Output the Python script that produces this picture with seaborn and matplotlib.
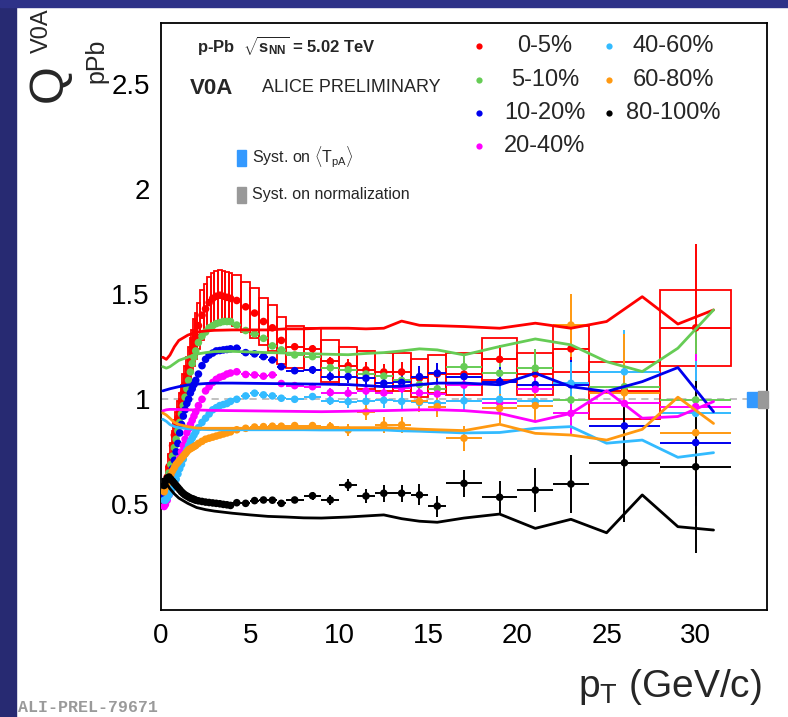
import numpy as np
import pandas as pd
import matplotlib
matplotlib.use("Agg")
import matplotlib.pyplot as plt
from matplotlib.patches import Rectangle
from matplotlib.ticker import MultipleLocator, FixedLocator
import seaborn as sns

# ---------------- data ----------------
classes = ["0-5%", "5-10%", "10-20%", "20-40%", "40-60%", "60-80%", "80-100%"]
colors = ["#ff0000", "#66cc55", "#0000ee", "#ff00ff", "#33bbff", "#ff9911", "#000000"]

pt = [0.175, 0.25, 0.35, 0.45, 0.55, 0.65, 0.75, 0.85, 0.95,
      1.05, 1.15, 1.25, 1.35, 1.45, 1.55, 1.65, 1.75, 1.85, 1.95,
      2.1, 2.3, 2.5, 2.7, 2.9, 3.1, 3.3, 3.5, 3.7, 3.9,
      4.25, 4.75, 5.25, 5.75, 6.25, 6.75,
      7.5, 8.5, 9.5,
      10.5, 11.5, 12.5, 13.5, 14.5, 15.5,
      17, 19, 21, 23, 26, 30]
pt_halfwidth = [0.025, 0.05, 0.05, 0.05, 0.05, 0.05, 0.05, 0.05, 0.05,
                0.05, 0.05, 0.05, 0.05, 0.05, 0.05, 0.05, 0.05, 0.05, 0.05,
                0.1, 0.1, 0.1, 0.1, 0.1, 0.1, 0.1, 0.1, 0.1, 0.1,
                0.25, 0.25, 0.25, 0.25, 0.25, 0.25,
                0.5, 0.5, 0.5,
                0.5, 0.5, 0.5, 0.5, 0.5, 0.5,
                1, 1, 1, 1, 2, 2]

q_0_5 = [0.55, 0.58, 0.63, 0.68, 0.73, 0.78, 0.83, 0.87, 0.91,
         0.95, 0.99, 1.03, 1.07, 1.11, 1.15, 1.19, 1.23, 1.27, 1.30,
         1.35, 1.40, 1.43, 1.46, 1.48, 1.49, 1.495, 1.49, 1.485, 1.48,
         1.47, 1.44, 1.41, 1.37, 1.34, 1.28,
         1.25, 1.24, 1.18,
         1.16, 1.14, 1.13, 1.13, 1.10, 1.12,
         1.12, 1.19, 1.12, 1.24, 1.04, 1.34]
q_5_10 = [0.55, 0.57, 0.61, 0.65, 0.69, 0.73, 0.77, 0.81, 0.85,
          0.89, 0.93, 0.97, 1.01, 1.05, 1.09, 1.13, 1.17, 1.20, 1.23,
          1.27, 1.30, 1.32, 1.34, 1.35, 1.36, 1.365, 1.37, 1.37, 1.37,
          1.353, 1.327, 1.311, 1.29, 1.254, 1.235,
          1.211, 1.203, 1.15,
          1.14, 1.12, 1.11, 1.09, 1.07, 1.05,
          1.155, 1.124, 1.148, 0.997, 1.06, 0.997]
q_10_20 = [0.54, 0.555, 0.58, 0.61, 0.64, 0.67, 0.71, 0.75, 0.79,
           0.84, 0.88, 0.92, 0.95, 0.98, 1.0, 1.03, 1.05, 1.07, 1.09,
           1.12, 1.16, 1.19, 1.21, 1.22, 1.23, 1.232, 1.235, 1.237, 1.24,
           1.243, 1.222, 1.216, 1.203, 1.187, 1.155,
           1.136, 1.14, 1.108,
           1.108, 1.10, 1.076, 1.08, 1.108, 1.124,
           1.108, 1.084, 1.07, 1.069, 0.873, 0.794]
q_20_40 = [0.49, 0.50, 0.52, 0.545, 0.57, 0.60, 0.63, 0.66, 0.69,
           0.72, 0.75, 0.78, 0.81, 0.84, 0.86, 0.88, 0.90, 0.92, 0.94,
           0.97, 1.0, 1.04, 1.06, 1.08, 1.095, 1.105, 1.11, 1.12, 1.125,
           1.131, 1.118, 1.116, 1.11, 1.116, 1.075,
           1.065, 1.06, 1.032,
           1.029, 1.04, 1.03, 1.052, 1.03, 1.025,
           1.068, 0.983, 1.047, 0.933, 0.98, 0.965]
q_40_60 = [0.52, 0.52, 0.53, 0.545, 0.56, 0.58, 0.60, 0.62, 0.645,
           0.67, 0.69, 0.715, 0.74, 0.76, 0.78, 0.80, 0.815, 0.83, 0.845,
           0.865, 0.89, 0.91, 0.93, 0.95, 0.96, 0.97, 0.975, 0.98, 0.99,
           1.0, 1.016, 1.029, 1.021, 1.016, 1.005,
           1.0, 1.013, 0.993,
           0.989, 0.99, 0.995, 0.99, 0.985, 0.98,
           0.993, 1.0, 0.99, 1.076, 1.131, 0.933]
q_60_80 = [0.56, 0.58, 0.60, 0.62, 0.64, 0.66, 0.675, 0.69, 0.70,
           0.71, 0.72, 0.73, 0.74, 0.75, 0.76, 0.765, 0.77, 0.775, 0.78,
           0.79, 0.80, 0.81, 0.815, 0.82, 0.825, 0.83, 0.835, 0.84, 0.845,
           0.855, 0.862, 0.868, 0.87, 0.872, 0.872,
           0.875, 0.875, 0.87,
           0.854, 0.94, 0.878, 0.878, 0.99, 0.965,
           0.815, 0.957, 0.97, 1.353, 1.031, 0.841]
q_80_100 = [0.59, 0.61, 0.625, 0.63, 0.62, 0.61, 0.60, 0.59, 0.58,
            0.57, 0.56, 0.552, 0.545, 0.54, 0.535, 0.53, 0.527, 0.524, 0.52,
            0.517, 0.514, 0.511, 0.509, 0.507, 0.505, 0.503, 0.50, 0.498, 0.495,
            0.508, 0.505, 0.518, 0.521, 0.52, 0.505,
            0.521, 0.541, 0.521,
            0.592, 0.54, 0.553, 0.553, 0.545, 0.492,
            0.60, 0.534, 0.568, 0.597, 0.698, 0.679]

# statistical errors: common low-pT part, per-class high-pT part (pT > 10)
err_low = [0.004, 0.004, 0.004, 0.004, 0.004, 0.004, 0.004, 0.004, 0.004,
           0.004, 0.004, 0.004, 0.004, 0.004, 0.004, 0.004, 0.004, 0.004, 0.004,
           0.005, 0.005, 0.005, 0.005, 0.005, 0.006, 0.006, 0.006, 0.007, 0.007,
           0.008, 0.009, 0.01, 0.011, 0.012, 0.013,
           0.015, 0.018, 0.022]
err_hi_0_5 = [0.03, 0.035, 0.04, 0.045, 0.05, 0.05, 0.06, 0.07, 0.09, 0.12, 0.2, 0.4]
err_hi_5_10 = [0.03, 0.035, 0.04, 0.045, 0.05, 0.05, 0.06, 0.07, 0.09, 0.12, 0.2, 0.35]
err_hi_10_20 = [0.03, 0.035, 0.04, 0.04, 0.05, 0.05, 0.06, 0.07, 0.09, 0.12, 0.18, 0.3]
err_hi_20_40 = [0.03, 0.03, 0.035, 0.04, 0.045, 0.05, 0.055, 0.065, 0.09, 0.1, 0.18, 0.25]
err_hi_40_60 = [0.03, 0.03, 0.035, 0.04, 0.045, 0.05, 0.055, 0.065, 0.08, 0.1, 0.2, 0.25]
err_hi_60_80 = [0.03, 0.04, 0.04, 0.04, 0.05, 0.05, 0.06, 0.07, 0.08, 0.15, 0.28, 0.2]
err_hi_80_100 = [0.03, 0.035, 0.04, 0.04, 0.05, 0.05, 0.065, 0.075, 0.105, 0.14, 0.28, 0.41]

# systematic uncertainty of 0-5% (boxes)
sys_0_5 = [0.05, 0.05, 0.05, 0.06, 0.06, 0.07, 0.07, 0.07, 0.08,
           0.08, 0.08, 0.09, 0.09, 0.09, 0.1, 0.1, 0.1, 0.11, 0.11,
           0.11, 0.12, 0.12, 0.12, 0.12, 0.12, 0.12, 0.12, 0.12, 0.12,
           0.12, 0.12, 0.12, 0.11, 0.11, 0.11,
           0.1, 0.1, 0.1,
           0.09, 0.09, 0.09, 0.09, 0.09, 0.09,
           0.1, 0.1, 0.1, 0.11, 0.135, 0.18]

# curves
line_pt = [0.1, 0.3, 0.5, 0.75, 1.0, 1.5, 2.0, 2.5, 3.0, 4.0, 5.0, 6.0, 7.0, 8.0, 9.0,
           10.5, 11.5, 12.5, 13.5, 14.5, 15.5, 17, 19, 21, 23, 25, 27, 29, 31]
line_0_5 = [1.20, 1.19, 1.21, 1.25, 1.28, 1.305, 1.32, 1.325, 1.328, 1.33, 1.33, 1.33, 1.335, 1.335, 1.338,
            1.338, 1.335, 1.338, 1.372, 1.352, 1.35, 1.346, 1.338, 1.362, 1.338, 1.37, 1.488, 1.358, 1.425]
line_5_10 = [1.155, 1.148, 1.155, 1.17, 1.185, 1.20, 1.215, 1.222, 1.227, 1.228, 1.225, 1.222, 1.22, 1.218, 1.215,
             1.212, 1.218, 1.222, 1.23, 1.24, 1.235, 1.211, 1.251, 1.287, 1.259, 1.179, 1.132, 1.243, 1.425]
line_10_20 = [1.04, 1.045, 1.05, 1.055, 1.06, 1.068, 1.072, 1.075, 1.077, 1.077, 1.076, 1.075, 1.074, 1.073, 1.072,
              1.07, 1.065, 1.06, 1.062, 1.07, 1.077, 1.077, 1.069, 1.124, 1.06, 1.037, 1.084, 1.151, 0.941]
line_20_40 = [0.945, 0.95, 0.952, 0.952, 0.951, 0.95, 0.949, 0.948, 0.947, 0.946, 0.945, 0.944, 0.943, 0.942, 0.941,
              0.943, 0.945, 0.946, 0.948, 0.95, 0.95, 0.946, 0.933, 0.894, 0.933, 1.041, 0.91, 0.918, 0.989]
line_40_60 = [0.905, 0.895, 0.88, 0.87, 0.865, 0.86, 0.857, 0.856, 0.855, 0.855, 0.855, 0.855, 0.855, 0.855, 0.854,
              0.854, 0.854, 0.854, 0.85, 0.848, 0.845, 0.84, 0.842, 0.862, 0.87, 0.791, 0.806, 0.724, 0.746]
line_60_80 = [0.935, 0.925, 0.91, 0.89, 0.88, 0.87, 0.863, 0.862, 0.862, 0.862, 0.862, 0.862, 0.862, 0.863, 0.864,
              0.865, 0.865, 0.865, 0.862, 0.858, 0.855, 0.851, 0.881, 0.838, 0.83, 0.806, 0.857, 1.01, 0.885]
line_80_100 = [0.62, 0.60, 0.575, 0.55, 0.53, 0.505, 0.485, 0.475, 0.468, 0.458, 0.45, 0.443, 0.44, 0.436, 0.435,
               0.44, 0.445, 0.45, 0.432, 0.42, 0.415, 0.435, 0.454, 0.386, 0.429, 0.365, 0.545, 0.394, 0.378]

x_ticks = [0, 5, 10, 15, 20, 25, 30]
y_ticks = [0.5, 1, 1.5, 2, 2.5]
y_tick_labels = ["0.5", "1", "1.5", "2", "2.5"]

# ---------------- assemble ----------------
q_all = [q_0_5, q_5_10, q_10_20, q_20_40, q_40_60, q_60_80, q_80_100]
err_hi_all = [err_hi_0_5, err_hi_5_10, err_hi_10_20, err_hi_20_40, err_hi_40_60, err_hi_60_80, err_hi_80_100]
lines_all = [line_0_5, line_5_10, line_10_20, line_20_40, line_40_60, line_60_80, line_80_100]

df_pts = pd.concat([pd.DataFrame({"pt": pt, "q": q, "dq": err_low + eh, "dx": pt_halfwidth, "cls": c})
                    for c, q, eh in zip(classes, q_all, err_hi_all)], ignore_index=True)
df_lines = pd.concat([pd.DataFrame({"pt": line_pt, "q": l, "cls": c})
                      for c, l in zip(classes, lines_all)], ignore_index=True)
palette = dict(zip(classes, colors))

# ---------------- style ----------------
sns.set_style("white")
plt.rcParams["font.family"] = ["Liberation Sans", "DejaVu Sans"]
plt.rcParams["mathtext.fontset"] = "custom"
plt.rcParams["mathtext.rm"] = "Liberation Sans"
plt.rcParams["mathtext.it"] = "Liberation Sans:italic"
plt.rcParams["mathtext.bf"] = "Liberation Sans:bold"

W, H = 788, 717
def P(x, y):
    return (x / W, 1 - y / H)

fig = plt.figure(figsize=(W / 100, H / 100), dpi=100)
fig.patch.set_facecolor("white")
# dark blue slide frame
fig.patches.append(Rectangle((0, 0), 16 / W, 1, transform=fig.transFigure, color="#272a72", zorder=0))
fig.patches.append(Rectangle((0, 1 - 7 / H), 1, 7 / H, transform=fig.transFigure, color="#2e3288", zorder=0))

ax = fig.add_axes([161 / W, 1 - 609.5 / H, (767 - 161) / W, (609.5 - 23) / H])
ax.set_xlim(0, 34)
ax.set_ylim(0, 2.79)

# reference line at 1
ax.plot([0, 32.9], [1, 1], ls=(0, (4, 3)), color="#bbbbbb", lw=1.3, zorder=1)

# systematic boxes 0-5%
for x, dx, y, s in zip(pt, pt_halfwidth, q_0_5, sys_0_5):
    ax.add_patch(Rectangle((x - dx, y - s), 2 * dx, 2 * s, fill=False, ec="#ff0000", lw=1.3, zorder=2))

# error bars
for c in classes:
    d = df_pts[df_pts.cls == c]
    ax.errorbar(d.pt, d.q, yerr=d.dq, xerr=d.dx, fmt="none", ecolor=palette[c], elinewidth=1.4, capsize=0, zorder=3)

sns.scatterplot(data=df_pts, x="pt", y="q", hue="cls", palette=palette, s=30, linewidth=0,
                legend=False, ax=ax, zorder=4)
sns.lineplot(data=df_lines, x="pt", y="q", hue="cls", palette=palette, estimator=None, sort=False,
             lw=2.0, legend=False, ax=ax, zorder=5)

# normalisation boxes at right
ax.add_patch(Rectangle((32.9, 0.965), 0.6, 0.07, color="#3399ff", zorder=6, clip_on=False))
ax.add_patch(Rectangle((33.5, 0.96), 0.55, 0.08, color="#999999", zorder=6, clip_on=False))

# axes cosmetics
ax.set_xlabel("")
ax.set_ylabel("")
for sp in ax.spines.values():
    sp.set_linewidth(1.3)
    sp.set_color("black")
ax.xaxis.set_major_locator(FixedLocator(x_ticks))
ax.xaxis.set_minor_locator(MultipleLocator(1))
ax.yaxis.set_major_locator(FixedLocator(y_ticks))
ax.set_yticklabels(y_tick_labels)
ax.yaxis.set_minor_locator(MultipleLocator(0.1))
ax.tick_params(which="both", direction="in", top=False, right=False, width=1.2, colors="black")
ax.tick_params(which="major", length=13, labelsize=20, pad=8)
ax.tick_params(which="minor", length=7)
ax.tick_params(axis="x", which="major", pad=10)

# y-axis title built ROOT-style: Q with raised V0A and lowered pPb
fig.text(*P(49, 83), "Q", rotation=90, ha="center", va="center", fontsize=35)
fig.text(*P(42, 31), "V0A", rotation=90, ha="center", va="center", fontsize=17)
fig.text(*P(96, 61), "pPb", rotation=90, ha="center", va="center", fontsize=18)

fig.text(*P(762, 697), r"p$_{\mathrm{T}}$ (GeV/c)", ha="right", va="baseline", fontsize=28)
fig.text(*P(18, 707), "ALI-PREL-79671", ha="left", va="center", fontsize=12,
         family="Liberation Mono", weight="bold", color="#9a9a9a")

fig.text(*P(197, 46), r"p-Pb  $\sqrt{\mathbf{s}_{\mathbf{NN}}}$ = 5.02 TeV", ha="left", va="center",
         fontsize=12, weight="bold")
fig.text(*P(190, 88), "V0A", ha="left", va="center", fontsize=16, weight="bold")
fig.text(*P(262, 88), "ALICE PRELIMINARY", ha="left", va="center", fontsize=13)

fig.patches.append(Rectangle(P(237, 166), 9 / W, 16 / H, transform=fig.transFigure, color="#3399ff"))
fig.text(*P(252, 157), r"Syst. on $\langle$T$_{\mathrm{pA}}\rangle$", ha="left", va="center", fontsize=11.5)
fig.patches.append(Rectangle(P(237, 203), 9 / W, 16 / H, transform=fig.transFigure, color="#999999"))
fig.text(*P(252, 195), "Syst. on normalization", ha="left", va="center", fontsize=11.5)

leg_pos = [(479, 545, 46), (479, 545, 80), (479, 545, 113), (479, 545, 146),
           (609, 673, 46), (609, 673, 80), (609, 673, 113)]
for (mx, tx, y), c in zip(leg_pos, classes):
    ax.plot(*[[v] for v in P(mx, y)], "o", ms=4.5, color=palette[c], mec="none",
            transform=fig.transFigure, clip_on=False)
    fig.text(*P(tx, y), c, ha="center", va="center", fontsize=17)

fig.savefig("out.png", dpi=100)
